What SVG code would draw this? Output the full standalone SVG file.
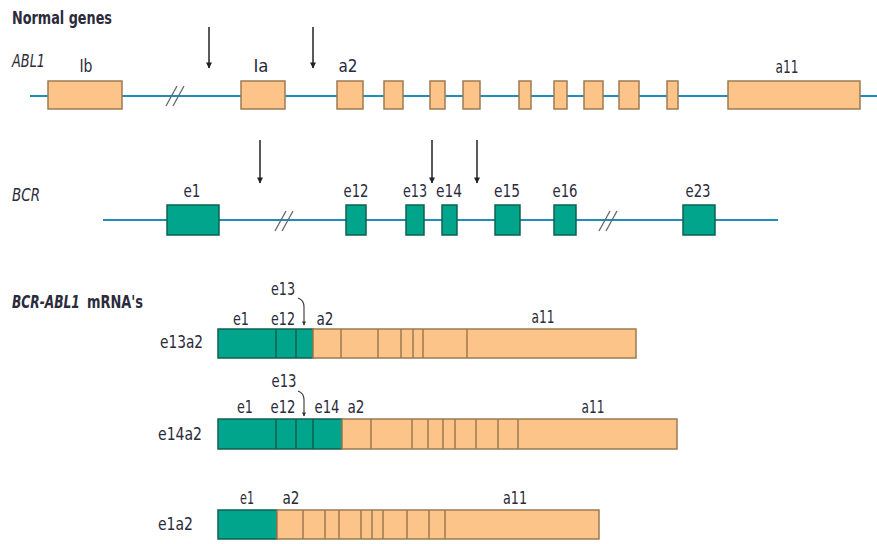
<svg xmlns="http://www.w3.org/2000/svg" width="877" height="544" viewBox="0 0 877 544">
<style>
text{font-family:"DejaVu Sans Condensed","Liberation Sans",sans-serif;fill:#2b2b3b;font-size:18px}
.c{text-anchor:middle}
.h{font-weight:bold}
.i{font-style:italic}
.abl{fill:#fdc48a;stroke:#9a7b52;stroke-width:1.5}
.bcr{fill:#00a58c;stroke:#0f6150;stroke-width:1.5}
.dv{stroke:#9a7b52;stroke-width:1.5}
.dg{stroke:#0f6150;stroke-width:1.5}
.gene{stroke:#1f8db8;stroke-width:2;fill:none}
.brk{stroke:#666;stroke-width:1.3}
.arr{stroke:#222;stroke-width:1.5;fill:none;marker-end:url(#ah)}
.hk{stroke:#333;stroke-width:1.1;fill:none;marker-end:url(#sh)}
</style>
<defs>
<marker id="ah" viewBox="0 0 10 10" refX="9" refY="5" markerWidth="9" markerHeight="6" orient="auto" markerUnits="userSpaceOnUse"><path d="M0,0 L10,5 L0,10 z" fill="#222"/></marker>
<marker id="sh" viewBox="0 0 10 10" refX="9" refY="5" markerWidth="5" markerHeight="4" orient="auto" markerUnits="userSpaceOnUse"><path d="M0,0 L10,5 L0,10 z" fill="#333"/></marker>
</defs>
<rect width="877" height="544" fill="#fff"/>

<text x="12" y="24" class="h" textLength="100" lengthAdjust="spacingAndGlyphs">Normal genes</text>
<text x="12" y="67" class="i" textLength="33" lengthAdjust="spacingAndGlyphs">ABL1</text>
<text x="12" y="201" class="i" textLength="28" lengthAdjust="spacingAndGlyphs">BCR</text>
<text transform="translate(12 308) scale(0.8 1)" class="h i" style="font-size:17px">BCR-ABL1</text>
<text x="87" y="308" class="h" textLength="56" lengthAdjust="spacingAndGlyphs" style="font-size:17px">mRNA's</text>

<g id="connectors">
<line class="gene" x1="30" y1="96" x2="877" y2="96"/>
<line class="gene" x1="103" y1="220" x2="778" y2="220"/>
<line class="brk" x1="166" y1="106" x2="177" y2="86"/>
<line class="brk" x1="173" y1="106" x2="184" y2="86"/>
<line class="brk" x1="275" y1="231" x2="286" y2="211"/>
<line class="brk" x1="282" y1="231" x2="293" y2="211"/>
<line class="brk" x1="599" y1="231" x2="610" y2="211"/>
<line class="brk" x1="606" y1="231" x2="617" y2="211"/>
<line class="arr" x1="209" y1="27" x2="209" y2="68"/>
<line class="arr" x1="313" y1="27" x2="313" y2="68"/>
<line class="arr" x1="260" y1="140" x2="260" y2="183"/>
<line class="arr" x1="432" y1="140" x2="432" y2="183"/>
<line class="arr" x1="477" y1="140" x2="477" y2="183"/>
<path class="hk" d="M298,298 Q304,300 304,307 L304,325"/>
<path class="hk" d="M298,391 Q304,393 304,400 L304,416"/>
</g>

<g id="abl1-Ib"><rect class="abl" x="48" y="81" width="74" height="28"/><text class="c" x="86" y="72" textLength="13" lengthAdjust="spacingAndGlyphs">Ib</text></g>
<g id="abl1-Ia"><rect class="abl" x="241" y="81" width="44" height="28"/><text class="c" x="261" y="72" textLength="15" lengthAdjust="spacingAndGlyphs">Ia</text></g>
<g id="abl1-a2"><rect class="abl" x="337" y="81" width="26" height="28"/><text class="c" x="348" y="72" textLength="19" lengthAdjust="spacingAndGlyphs">a2</text></g>
<g id="abl1-a3"><rect class="abl" x="384" y="81" width="19" height="28"/></g>
<g id="abl1-a4"><rect class="abl" x="430" y="81" width="15" height="28"/></g>
<g id="abl1-a5"><rect class="abl" x="463" y="81" width="17" height="28"/></g>
<g id="abl1-a6"><rect class="abl" x="519" y="81" width="12" height="28"/></g>
<g id="abl1-a7"><rect class="abl" x="554" y="81" width="13" height="28"/></g>
<g id="abl1-a8"><rect class="abl" x="584" y="81" width="19" height="28"/></g>
<g id="abl1-a9"><rect class="abl" x="619" y="81" width="20" height="28"/></g>
<g id="abl1-a10"><rect class="abl" x="667" y="81" width="11" height="28"/></g>
<g id="abl1-a11"><rect class="abl" x="728" y="81" width="132" height="28"/><text class="c" x="787" y="73" textLength="23" lengthAdjust="spacingAndGlyphs">a11</text></g>

<g id="bcr-e1"><rect class="bcr" x="167" y="205" width="52" height="30"/><text class="c" x="192" y="197" textLength="17" lengthAdjust="spacingAndGlyphs">e1</text></g>
<g id="bcr-e12"><rect class="bcr" x="346" y="205" width="20" height="30"/><text class="c" x="356" y="197" textLength="25" lengthAdjust="spacingAndGlyphs">e12</text></g>
<g id="bcr-e13"><rect class="bcr" x="406" y="205" width="18" height="30"/><text class="c" x="415" y="197" textLength="24" lengthAdjust="spacingAndGlyphs">e13</text></g>
<g id="bcr-e14"><rect class="bcr" x="442" y="205" width="15" height="30"/><text class="c" x="449" y="197" textLength="26" lengthAdjust="spacingAndGlyphs">e14</text></g>
<g id="bcr-e15"><rect class="bcr" x="495" y="205" width="25" height="30"/><text class="c" x="507" y="197" textLength="26" lengthAdjust="spacingAndGlyphs">e15</text></g>
<g id="bcr-e16"><rect class="bcr" x="554" y="205" width="22" height="30"/><text class="c" x="565" y="197" textLength="25" lengthAdjust="spacingAndGlyphs">e16</text></g>
<g id="bcr-e23"><rect class="bcr" x="683" y="205" width="32" height="30"/><text class="c" x="698" y="197" textLength="25" lengthAdjust="spacingAndGlyphs">e23</text></g>

<g id="mrna-e13a2">
<text x="160" y="348" textLength="43" lengthAdjust="spacingAndGlyphs">e13a2</text>
<rect class="bcr" x="218" y="329" width="95" height="29"/>
<line class="dg" x1="276" y1="329" x2="276" y2="358"/>
<line class="dg" x1="296" y1="329" x2="296" y2="358"/>
<rect class="abl" x="313" y="329" width="323" height="29"/>
<line class="dv" x1="341" y1="329" x2="341" y2="358"/>
<line class="dv" x1="378" y1="329" x2="378" y2="358"/>
<line class="dv" x1="401" y1="329" x2="401" y2="358"/>
<line class="dv" x1="413" y1="329" x2="413" y2="358"/>
<line class="dv" x1="423" y1="329" x2="423" y2="358"/>
<line class="dv" x1="467" y1="329" x2="467" y2="358"/>
<text class="c" x="241" y="325" textLength="16" lengthAdjust="spacingAndGlyphs">e1</text>
<text class="c" x="283" y="325" textLength="24" lengthAdjust="spacingAndGlyphs">e12</text>
<text class="c" x="283" y="295" textLength="24" lengthAdjust="spacingAndGlyphs">e13</text>
<text class="c" x="325" y="325" textLength="17" lengthAdjust="spacingAndGlyphs">a2</text>
<text class="c" x="543" y="323" textLength="23" lengthAdjust="spacingAndGlyphs">a11</text>
</g>

<g id="mrna-e14a2">
<text x="158" y="440" textLength="44" lengthAdjust="spacingAndGlyphs">e14a2</text>
<rect class="bcr" x="218" y="419" width="124" height="30"/>
<line class="dg" x1="276" y1="419" x2="276" y2="449"/>
<line class="dg" x1="296" y1="419" x2="296" y2="449"/>
<line class="dg" x1="313" y1="419" x2="313" y2="449"/>
<rect class="abl" x="342" y="419" width="335" height="30"/>
<line class="dv" x1="371" y1="419" x2="371" y2="449"/>
<line class="dv" x1="412" y1="419" x2="412" y2="449"/>
<line class="dv" x1="428" y1="419" x2="428" y2="449"/>
<line class="dv" x1="443" y1="419" x2="443" y2="449"/>
<line class="dv" x1="455" y1="419" x2="455" y2="449"/>
<line class="dv" x1="476" y1="419" x2="476" y2="449"/>
<line class="dv" x1="498" y1="419" x2="498" y2="449"/>
<line class="dv" x1="518" y1="419" x2="518" y2="449"/>
<text class="c" x="245" y="413" textLength="16" lengthAdjust="spacingAndGlyphs">e1</text>
<text class="c" x="283" y="413" textLength="25" lengthAdjust="spacingAndGlyphs">e12</text>
<text class="c" x="284" y="387" textLength="25" lengthAdjust="spacingAndGlyphs">e13</text>
<text class="c" x="327" y="413" textLength="25" lengthAdjust="spacingAndGlyphs">e14</text>
<text class="c" x="356" y="413" textLength="17" lengthAdjust="spacingAndGlyphs">a2</text>
<text class="c" x="593" y="413" textLength="23" lengthAdjust="spacingAndGlyphs">a11</text>
</g>

<g id="mrna-e1a2">
<text x="158" y="530" textLength="35" lengthAdjust="spacingAndGlyphs">e1a2</text>
<rect class="bcr" x="218" y="510" width="59" height="29"/>
<rect class="abl" x="277" y="510" width="322" height="29"/>
<line class="dv" x1="303" y1="510" x2="303" y2="539"/>
<line class="dv" x1="325" y1="510" x2="325" y2="539"/>
<line class="dv" x1="339" y1="510" x2="339" y2="539"/>
<line class="dv" x1="361" y1="510" x2="361" y2="539"/>
<line class="dv" x1="372" y1="510" x2="372" y2="539"/>
<line class="dv" x1="383" y1="510" x2="383" y2="539"/>
<line class="dv" x1="407" y1="510" x2="407" y2="539"/>
<line class="dv" x1="429" y1="510" x2="429" y2="539"/>
<line class="dv" x1="445" y1="510" x2="445" y2="539"/>
<text class="c" x="247" y="504" textLength="14" lengthAdjust="spacingAndGlyphs">e1</text>
<text class="c" x="291" y="504" textLength="17" lengthAdjust="spacingAndGlyphs">a2</text>
<text class="c" x="515" y="504" textLength="24" lengthAdjust="spacingAndGlyphs">a11</text>
</g>
</svg>
